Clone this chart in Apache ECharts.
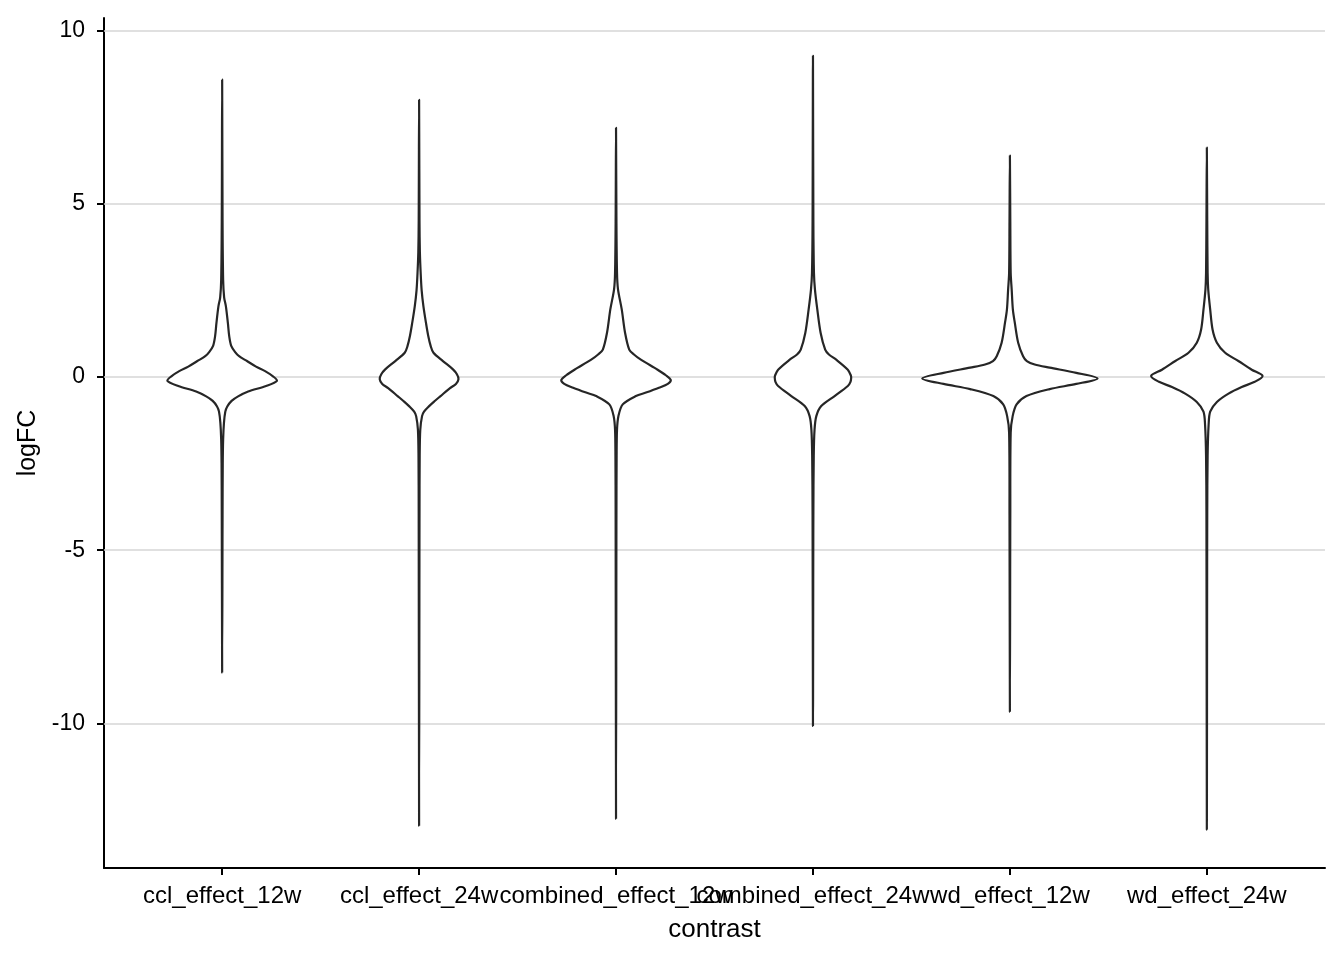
<!DOCTYPE html>
<html><head><meta charset="utf-8">
<script src="https://cdn.jsdelivr.net/npm/echarts@6/dist/echarts.min.js"></script>
<style>html,body{margin:0;padding:0;background:#fff}#chart{width:1344px;height:960px}</style>
</head><body><div id="chart"></div>
<script>
// ---- data ----
const categories = ['ccl_effect_12w', 'ccl_effect_24w', 'combined_effect_12w', 'combined_effect_24w', 'wd_effect_12w', 'wd_effect_24w'];
const yTickValues = [-10, -5, 0, 5, 10];
const logFCMax = [8.58, 8.0, 7.19, 9.27, 6.39, 6.62];
const logFCMin = [-8.53, -12.95, -12.75, -10.07, -9.66, -13.06];

// violin profiles: logFC levels (top to bottom) and half-widths in category units
const cclEffect12wY = [4.5, 2.8, 2.3, 2.04, 1.56, 1.17, 0.9, 0.72, 0.6, 0.46, 0.3, 0.17, 0.02, -0.11, -0.26, -0.42, -0.56, -0.69, -0.85, -1.0, -1.33, -1.8, -2.5, -4.0];
const cclEffect12wW = [0.002, 0.005, 0.010, 0.019, 0.029, 0.036, 0.046, 0.066, 0.086, 0.126, 0.172, 0.218, 0.258, 0.278, 0.223, 0.132, 0.081, 0.048, 0.026, 0.016, 0.009, 0.005, 0.003, 0.002];

const cclEffect24wY = [4.5, 3.6, 3.0, 2.5, 2.04, 1.56, 1.2, 0.89, 0.70, 0.46, 0.22, 0.08, -0.06, -0.2, -0.32, -0.55, -0.7, -0.84, -1.0, -1.13, -1.52, -2.27, -4.0];
const cclEffect24wW = [0.002, 0.004, 0.008, 0.013, 0.022, 0.035, 0.046, 0.059, 0.073, 0.121, 0.172, 0.192, 0.200, 0.187, 0.157, 0.109, 0.078, 0.051, 0.025, 0.015, 0.006, 0.003, 0.002];

const combinedEffect12wY = [4.5, 3.0, 2.53, 1.95, 1.27, 0.79, 0.65, 0.50, 0.21, 0.05, -0.09, -0.2, -0.31, -0.45, -0.55, -0.79, -1.13, -1.52, -2.27, -4.0];
const combinedEffect12wW = [0.002, 0.005, 0.010, 0.029, 0.046, 0.067, 0.091, 0.126, 0.211, 0.253, 0.278, 0.263, 0.218, 0.152, 0.101, 0.034, 0.012, 0.005, 0.003, 0.002];

const combinedEffect24wY = [4.5, 3.0, 2.53, 1.95, 1.27, 0.79, 0.65, 0.50, 0.21, 0.05, -0.03, -0.15, -0.26, -0.55, -0.84, -1.13, -1.52, -2.27, -4.0];
const combinedEffect24wW = [0.002, 0.005, 0.010, 0.022, 0.039, 0.062, 0.081, 0.118, 0.177, 0.192, 0.194, 0.190, 0.177, 0.110, 0.042, 0.017, 0.008, 0.004, 0.002];

const wdEffect12wY = [4.5, 3.0, 2.53, 1.95, 1.56, 0.99, 0.60, 0.46, 0.36, 0.27, 0.12, -0.04, -0.20, -0.35, -0.55, -0.79, -1.13, -1.61, -4.0];
const wdEffect12wW = [0.002, 0.004, 0.009, 0.015, 0.025, 0.042, 0.067, 0.086, 0.126, 0.202, 0.337, 0.445, 0.337, 0.202, 0.084, 0.034, 0.014, 0.004, 0.002];

const wdEffect24wY = [4.5, 3.0, 2.53, 1.95, 1.37, 0.99, 0.70, 0.46, 0.21, 0.03, -0.14, -0.29, -0.48, -0.72, -1.0, -1.38, -2.27, -4.0];
const wdEffect24wW = [0.002, 0.004, 0.007, 0.017, 0.029, 0.051, 0.093, 0.160, 0.228, 0.283, 0.243, 0.177, 0.110, 0.051, 0.017, 0.009, 0.004, 0.002];

const profileY = [cclEffect12wY, cclEffect24wY, combinedEffect12wY, combinedEffect24wY, wdEffect12wY, wdEffect24wY];
const profileW = [cclEffect12wW, cclEffect24wW, combinedEffect12wW, combinedEffect24wW, wdEffect12wW, wdEffect24wW];
const categoryPos = [1, 2, 3, 4, 5, 6];

// ---- chart ----
const chart = echarts.init(document.getElementById('chart'), null, {renderer: 'canvas'});
const FONT = '"Liberation Sans", Arial, Helvetica, sans-serif';

function renderViolin(params, api) {
  const i = params.dataIndex;
  const cx = categoryPos[i];
  const ys = profileY[i], ws = profileW[i];
  const pts = [];
  pts.push(api.coord([cx, logFCMax[i]]));
  for (let k = 0; k < ys.length; k++) pts.push(api.coord([cx + ws[k], ys[k]]));
  pts.push(api.coord([cx, logFCMin[i]]));
  for (let k = ys.length - 1; k >= 0; k--) pts.push(api.coord([cx - ws[k], ys[k]]));
  return {
    type: 'polygon',
    shape: {points: pts, smooth: 0.3},
    style: {fill: '#ffffff', stroke: '#262626', lineWidth: 2.2, lineJoin: 'round'}
  };
}

const option = {
  backgroundColor: '#ffffff',
  animation: false,
  grid: {left: 104, right: 19, top: 18, bottom: 92, containLabel: false},
  xAxis: {
    type: 'value', min: 0.4, max: 6.6,
    name: 'contrast', nameLocation: 'middle', nameGap: 49,
    nameTextStyle: {fontFamily: FONT, fontSize: 26, color: '#000'},
    axisLine: {show: true, onZero: false, lineStyle: {color: '#000', width: 2}},
    axisTick: {show: true, length: 7, lineStyle: {color: '#000', width: 2}, customValues: categoryPos},
    axisLabel: {show: true, customValues: categoryPos, hideOverlap: false, margin: 16,
      fontFamily: FONT, fontSize: 24, color: '#000',
      formatter: v => categories[Math.round(v) - 1]},
    splitLine: {show: false}
  },
  yAxis: {
    type: 'value', min: -14.17, max: 10.36,
    name: 'logFC', nameLocation: 'middle', nameGap: 47, nameRotate: 90,
    nameTextStyle: {fontFamily: FONT, fontSize: 25, color: '#000'},
    axisLine: {show: true, lineStyle: {color: '#000', width: 2}},
    axisTick: {show: true, length: 7, lineStyle: {color: '#000', width: 2}, customValues: yTickValues},
    axisLabel: {show: true, customValues: yTickValues, margin: 19,
      fontFamily: FONT, fontSize: 23, color: '#000'},
    splitLine: {show: false}
  },
  series: [
    {
      type: 'line', data: [], z: 1, silent: true,
      markLine: {
        silent: true, symbol: 'none', z: 1, animation: false,
        label: {show: false},
        lineStyle: {color: '#d6d6d6', width: 1.6, type: 'solid'},
        data: yTickValues.map(v => ({yAxis: v}))
      }
    },
    {
      type: 'custom', z: 3, silent: true,
      renderItem: renderViolin,
      data: categoryPos.map((c, i) => [c, logFCMin[i], logFCMax[i]])
    }
  ]
};
chart.setOption(option);
</script>
</body></html>
